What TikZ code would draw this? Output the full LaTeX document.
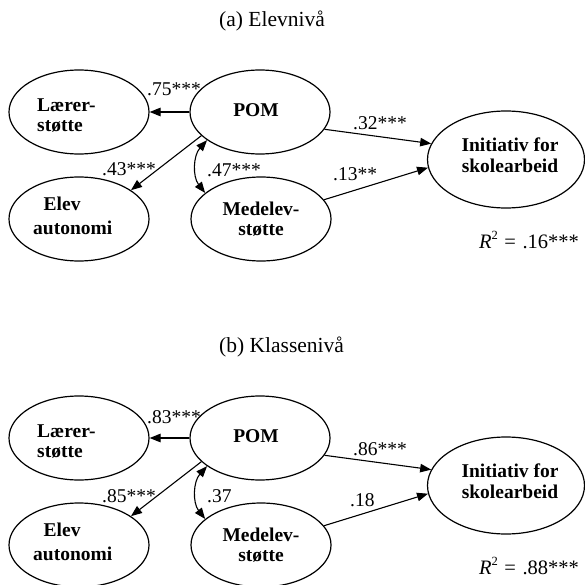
\documentclass[tikz,border=0pt]{standalone}
\usepackage{fontspec}
\setmainfont{Liberation Serif}
\usetikzlibrary{arrows.meta,shapes.geometric}
\tikzset{
  ell/.style={draw, ellipse, line width=1.2pt, inner sep=0pt, minimum width=140pt, minimum height=84pt},
  bigell/.style={ell, minimum width=157pt, minimum height=97pt},
  nodetext/.style={font=\fontsize{19.5}{20}\selectfont\bfseries, inner sep=0pt},
  lab/.style={font=\fontsize{19.5}{20}\selectfont, inner sep=0pt, anchor=base west},
  rlab/.style={font=\fontsize{20.5}{22}\selectfont, inner sep=0pt, anchor=base west},
  ttl/.style={font=\fontsize{21.5}{24}\selectfont, inner sep=0pt, anchor=base west},
  arr/.style={line width=1.1pt, -{Triangle[length=11pt,width=8.5pt]}},
  darr/.style={line width=1.1pt, {Triangle[length=11pt,width=8.5pt]}-{Triangle[length=11pt,width=8.5pt]}}
}
\newcommand{\rsq}[1]{{\itshape R}\raisebox{0.42em}{\fontsize{12.5}{12.5}\selectfont 2}\hspace{6.5pt}=\hspace{6.5pt}#1}
\begin{document}
\begin{tikzpicture}[x=1pt,y=-1pt]
\useasboundingbox (0,0) rectangle (585,585);
% ---------- panel (a) ----------
\node[ttl] (ta) at (219,27) {(a) Elevnivå};
\node[ell] (La) at (79,112) {};
\node[ell] (Pa) at (260,112) {};
\node[ell] (Ea) at (79,219) {};
\node[ell] (Ma) at (261,219) {};
\node[bigell] (Ia) at (506,159.5) {};
\node[nodetext, align=left, anchor=base west] (Lta) at (37,131.7) {Lærer-\\støtte};
\node[nodetext, anchor=base] (Pta) at (256,116.7) {POM};
\node[nodetext, align=left, anchor=base west] (Eta) at (33,234) {\hspace*{10.5pt}Elev\\[4pt]autonomi};
\node[nodetext, align=center, anchor=base] (Mta) at (261,235) {Medelev-\\støtte};
\node[nodetext, align=center, anchor=base] (Ita) at (510,172.3) {Initiativ for\\[0.6pt]skolearbeid};
\draw[arr] (Pa.180) -- (La.0);
\draw[arr] (Pa.202) -- (Ea.29.6);
\draw[arr] (Pa.345.6) -- (Ia.168);
\draw[arr] (Ma.17.9) -- (Ia.186);
\draw[darr] (Pa.208) to[bend right=40] (Ma.155);
\node[lab] (l1a) at (147,96) {.75***};
\node[lab] (l2a) at (102,176) {.43***};
\node[lab] (l3a) at (207,177) {.47***};
\node[lab] (l4a) at (353,130) {.32***};
\node[lab] (l5a) at (333,181) {.13**};
\node[rlab] (ra) at (479,248) {\rsq{.16***}};
% ---------- panel (b) ----------
\node[ttl] (tb) at (219,352) {(b) Klassenivå};
\node[ell] (Lb) at (79,438) {};
\node[ell] (Pb) at (260,438) {};
\node[ell] (Eb) at (79,545) {};
\node[ell] (Mb) at (261,545) {};
\node[bigell] (Ib) at (506,485.5) {};
\node[nodetext, align=left, anchor=base west] (Ltb) at (37,457.7) {Lærer-\\støtte};
\node[nodetext, anchor=base] (Ptb) at (256,442.7) {POM};
\node[nodetext, align=left, anchor=base west] (Etb) at (33,560) {\hspace*{10.5pt}Elev\\[4pt]autonomi};
\node[nodetext, align=center, anchor=base] (Mtb) at (261,561) {Medelev-\\støtte};
\node[nodetext, align=center, anchor=base] (Itb) at (510,498.3) {Initiativ for\\[0.6pt]skolearbeid};
\draw[arr] (Pb.180) -- (Lb.0);
\draw[arr] (Pb.202) -- (Eb.29.6);
\draw[arr] (Pb.345.6) -- (Ib.168);
\draw[arr] (Mb.17.9) -- (Ib.186);
\draw[darr] (Pb.208) to[bend right=40] (Mb.155);
\node[lab] (l1b) at (147,423) {.83***};
\node[lab] (l2b) at (102,502) {.85***};
\node[lab] (l3b) at (207,502) {.37};
\node[lab] (l4b) at (353,455) {.86***};
\node[lab] (l5b) at (350,506) {.18};
\node[rlab] (rb) at (479,574) {\rsq{.88***}};
\end{tikzpicture}
\end{document}
